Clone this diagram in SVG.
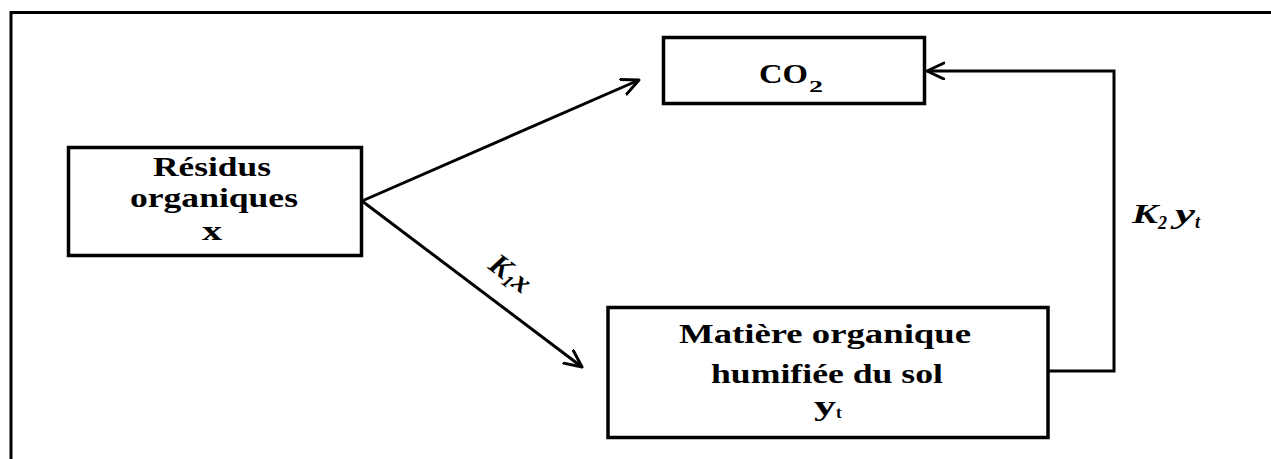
<svg xmlns="http://www.w3.org/2000/svg" width="1271" height="459" viewBox="0 0 1271 459">
<style>
.box{fill:#fff;stroke:#000;stroke-width:3.5}
.con{fill:none;stroke:#000;stroke-width:3}
</style>
<defs>
<marker id="ah" markerUnits="userSpaceOnUse" markerWidth="24" markerHeight="24" refX="18" refY="9" orient="auto">
<path d="M1,1 L18,9 L1,17" fill="none" stroke="#000" stroke-width="3" stroke-linecap="round" stroke-linejoin="round"/>
</marker>
</defs>
<rect width="1271" height="459" fill="#fff"/>
<rect x="11" y="12.5" width="1300" height="500" fill="none" stroke="#000" stroke-width="3"/>
<g font-family="Liberation Serif, Times New Roman, serif" font-weight="bold" fill="#000">
<g id="connectors">
<line class="con" x1="362" y1="201" x2="639" y2="80" marker-end="url(#ah)"/>
<line class="con" x1="362" y1="201" x2="582" y2="367" marker-end="url(#ah)"/>
<path class="con" d="M1049,371 H1114 V71 H927" marker-end="url(#ah)"/>
<text font-style="italic" transform="translate(487,268) rotate(37)"><tspan font-size="30">K</tspan><tspan font-size="18" dy="4">1</tspan><tspan font-size="30" dy="-4">x</tspan></text>
<text font-style="italic" x="1132" y="223" font-size="28" textLength="26" lengthAdjust="spacingAndGlyphs">K</text>
<text font-style="italic" x="1158" y="229" font-size="18">2</text>
<text font-style="italic" x="1175" y="223" font-size="28" textLength="20" lengthAdjust="spacingAndGlyphs">y</text>
<text font-style="italic" x="1195" y="228" font-size="18">t</text>
</g>
<g id="residus">
<rect class="box" x="68.5" y="147.5" width="293" height="108"/>
<text x="153" y="176" font-size="27" textLength="118" lengthAdjust="spacingAndGlyphs">Résidus</text>
<text x="130" y="207" font-size="27" textLength="168" lengthAdjust="spacingAndGlyphs">organiques</text>
<text x="202" y="240" font-size="28" textLength="20" lengthAdjust="spacingAndGlyphs">x</text>
</g>
<g id="co2">
<rect class="box" x="663.5" y="37.5" width="261" height="66"/>
<text x="759" y="83" font-size="27" textLength="49" lengthAdjust="spacingAndGlyphs">CO</text>
<text x="809" y="92" font-size="17" textLength="14" lengthAdjust="spacingAndGlyphs">2</text>
</g>
<g id="matiere">
<rect class="box" x="608" y="307.5" width="440" height="130"/>
<text x="679" y="343" font-size="28" textLength="292" lengthAdjust="spacingAndGlyphs">Matière organique</text>
<text x="711" y="383" font-size="28" textLength="232" lengthAdjust="spacingAndGlyphs">humifiée du sol</text>
<text x="814" y="415" font-size="28" textLength="22" lengthAdjust="spacingAndGlyphs">y</text>
<text x="836" y="418" font-size="17">t</text>
</g>
</g>
</svg>
